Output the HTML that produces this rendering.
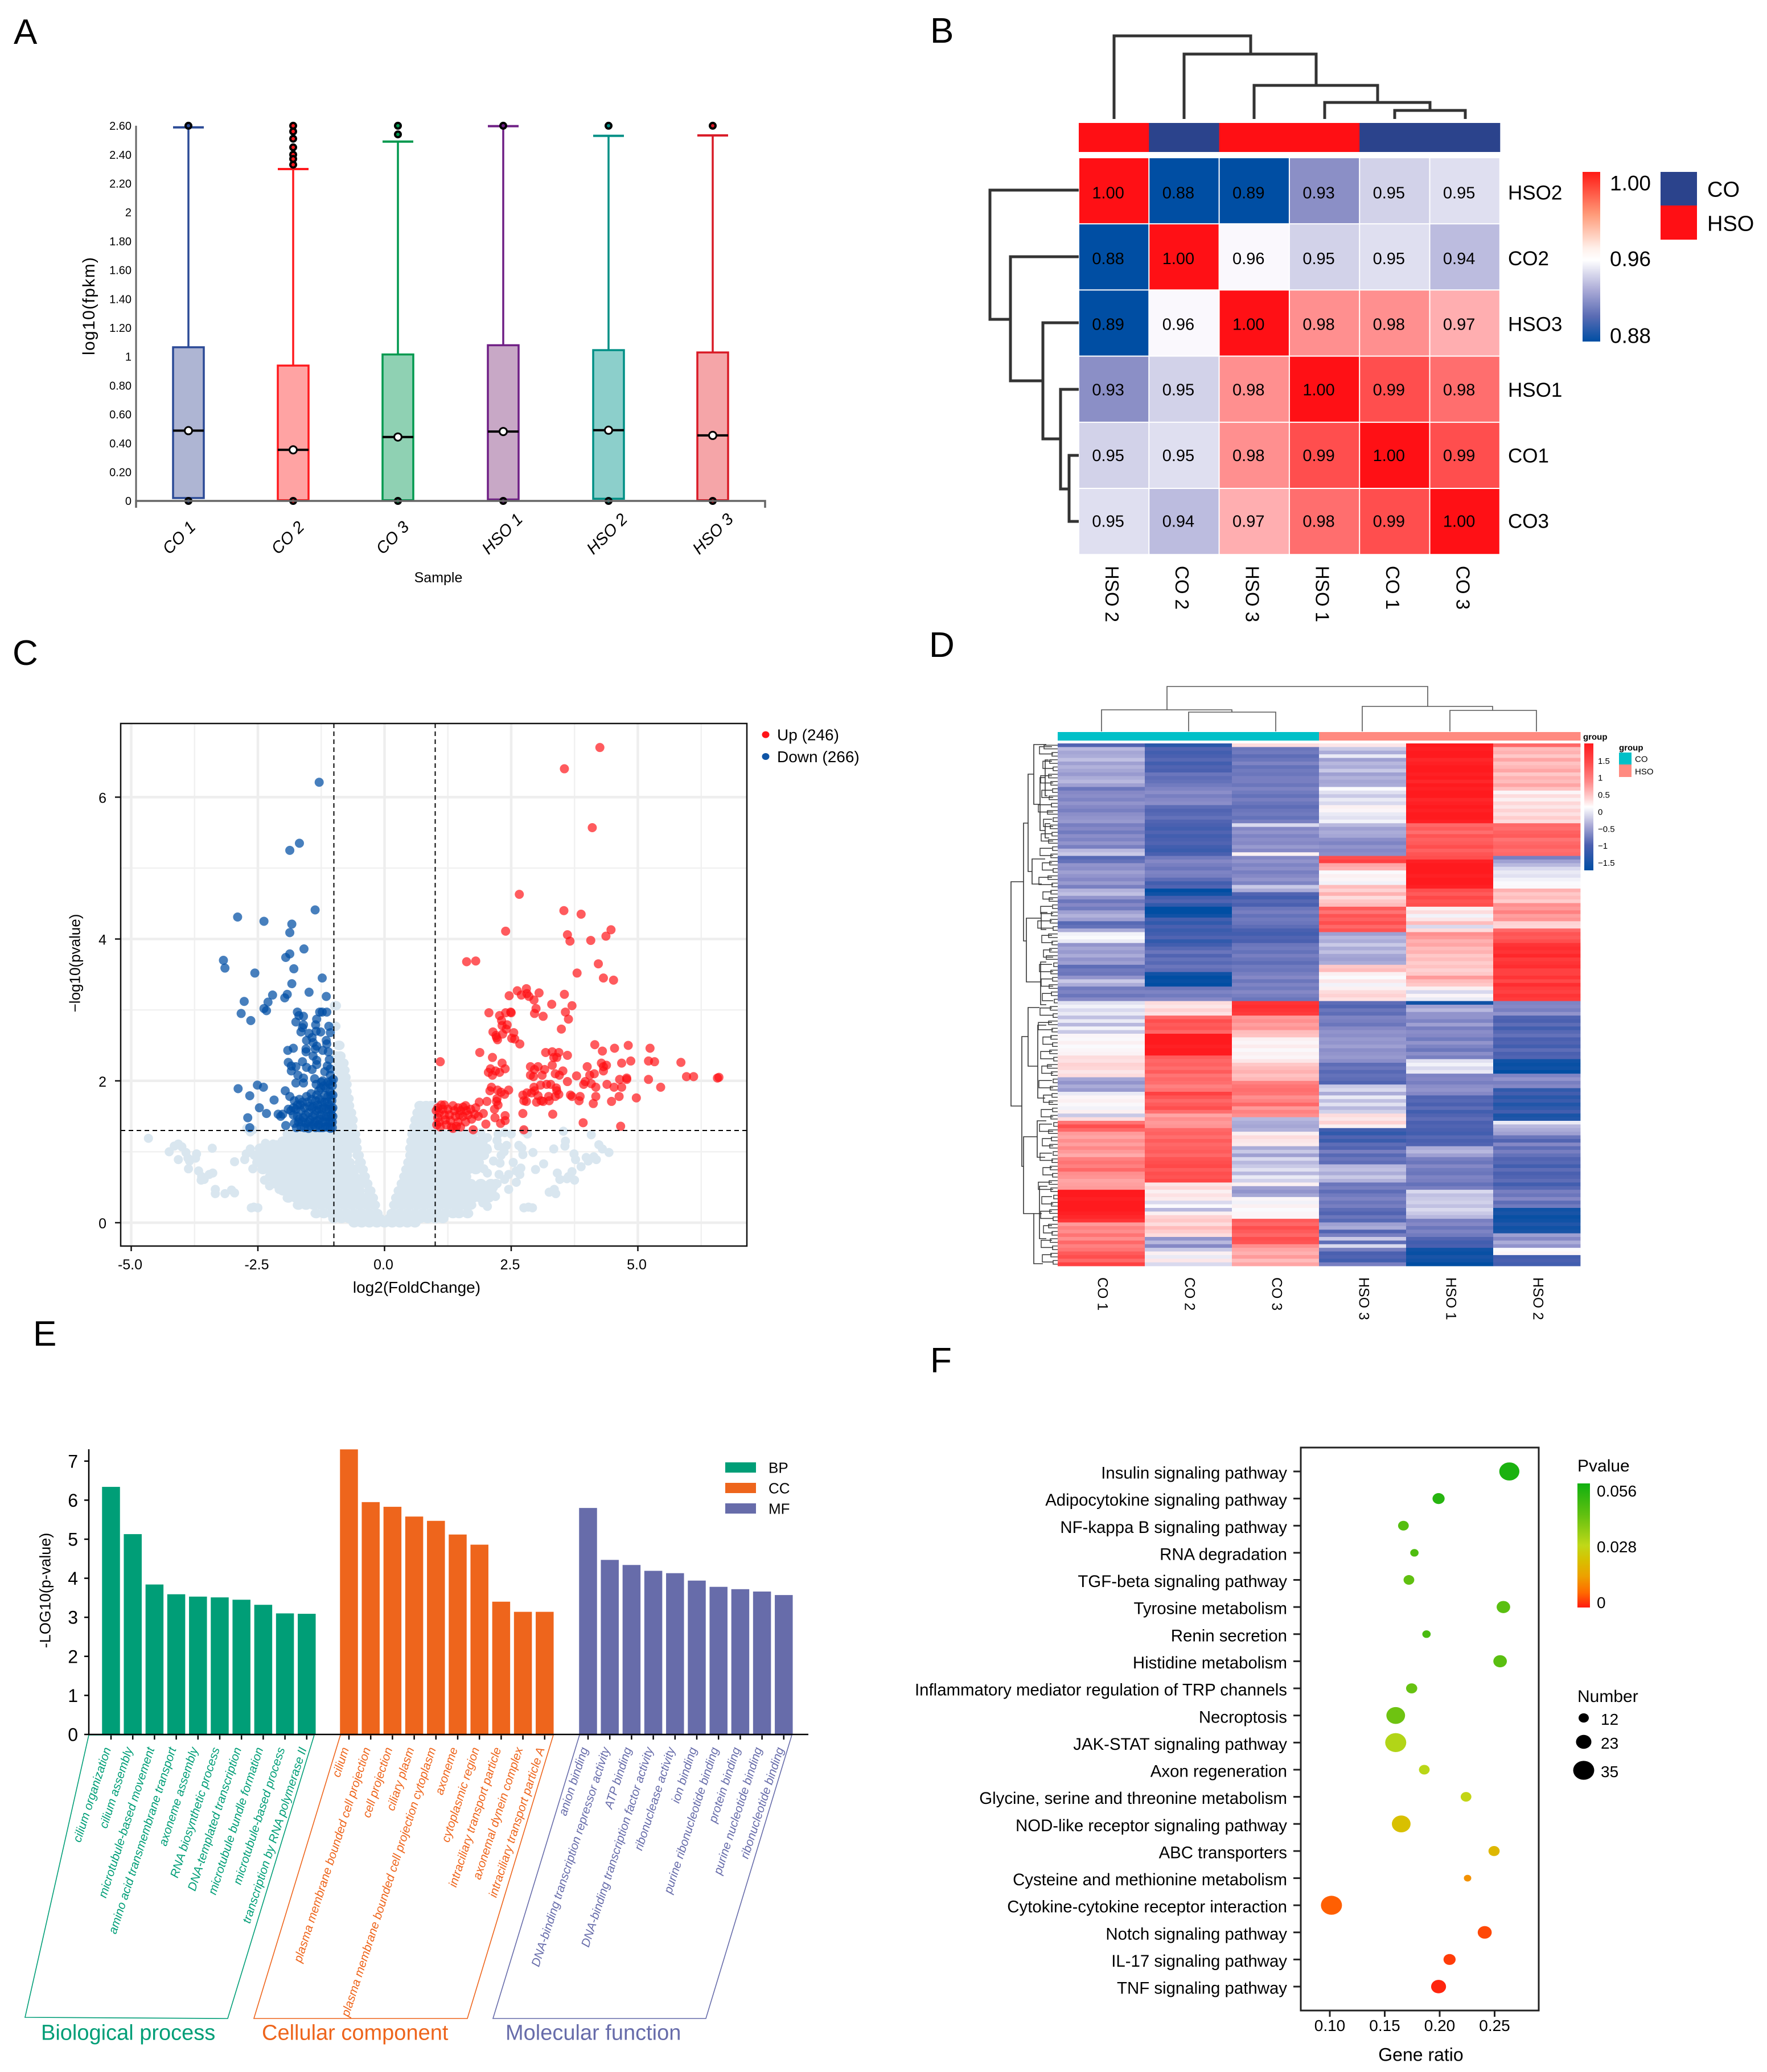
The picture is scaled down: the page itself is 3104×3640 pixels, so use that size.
<!DOCTYPE html>
<html lang="en">
<head>
<meta charset="utf-8">
<title>Multi-panel transcriptome figure</title>
<style>
html,body{margin:0;padding:0;background:#fff;}
svg{display:block;font-family:"Liberation Sans",sans-serif;}
.letter{font-size:62px;fill:#000;}
</style>
</head>
<body>
<svg id="fig" xmlns="http://www.w3.org/2000/svg" width="3104" height="3640" viewBox="0 0 3104 3640">
  <rect x="0" y="0" width="3104" height="3640" fill="#fff"/>
  <text class="letter" x="24" y="77">A</text>
  <text class="letter" x="1634" y="75">B</text>
  <text class="letter" x="22" y="1168">C</text>
  <text class="letter" x="1632" y="1154">D</text>
  <text class="letter" x="58" y="2364">E</text>
  <text class="letter" x="1634" y="2411">F</text>

  <g id="panelA">
    <text transform="rotate(-90 155 538)" x="155" y="538" dy=".36em" text-anchor="middle" font-size="30" textLength="172" lengthAdjust="spacing">log10(fpkm)</text>
    <text x="770" y="1014" dy=".36em" text-anchor="middle" font-size="25">Sample</text>
  </g>
  <g id="panelB"></g>
  <g id="panelC"></g>
  <g id="panelD"></g>
  <g id="panelE">
    <text transform="rotate(-90 79 2794)" x="79" y="2794" dy=".36em" text-anchor="middle" font-size="27">-LOG10(p-value)</text>
    <text x="72" y="3570" dy=".36em" font-size="38" fill="#009e77">Biological process</text>
    <text x="460" y="3570" dy=".36em" font-size="38" fill="#ee651c">Cellular component</text>
    <text x="888" y="3570" dy=".36em" font-size="38" fill="#676caa">Molecular function</text>
  </g>
  <g id="panelF">
    <text x="2496" y="3609" dy=".36em" text-anchor="middle" font-size="32">Gene ratio</text>
    <text x="2771" y="2574" dy=".36em" font-size="30">Pvalue</text>
    <text x="2771" y="2979" dy=".36em" font-size="30">Number</text>
  </g>
</svg>
<script>
/* ---------- Panel A data ---------- */
const boxSamples = ['CO 1','CO 2','CO 3','HSO 1','HSO 2','HSO 3'];
const boxQ1 = [0.02,0.005,0.005,0.01,0.015,0.005];
const boxMedian = [0.487,0.354,0.443,0.481,0.49,0.454];
const boxQ3 = [1.065,0.938,1.015,1.079,1.045,1.029];
const boxWhiskerHigh = [2.589,2.30,2.49,2.597,2.53,2.533];
const boxOutliers = [[2.6,0],[2.6,2.56,2.51,2.45,2.40,2.37,2.33,0],[2.6,2.54,0],[2.6,0],[2.6,0],[2.6,0]];
const boxYTicks = [0,0.2,0.4,0.6,0.8,1,1.2,1.4,1.6,1.8,2,2.2,2.4,2.6];
const boxYTickLabels = ['0','0.20','0.40','0.60','0.80','1','1.20','1.40','1.60','1.80','2','2.20','2.40','2.60'];

/* ---------- Panel B data ---------- */
const corrColumns = ['HSO 2','CO 2','HSO 3','HSO 1','CO 1','CO 3'];
const corrRows = ['HSO2','CO2','HSO3','HSO1','CO1','CO3'];
const corrGroups = ['HSO','CO','HSO','HSO','CO','CO'];
const corrValues = [
 [1.00,0.88,0.886,0.93,0.951,0.954],
 [0.88,1.00,0.96,0.951,0.954,0.944],
 [0.886,0.96,1.00,0.977,0.977,0.971],
 [0.93,0.951,0.977,1.00,0.99,0.983],
 [0.951,0.954,0.977,0.99,1.00,0.99],
 [0.954,0.944,0.971,0.983,0.99,1.00]];

/* ---------- Panel C data (log2FC, -log10 p) ---------- */
const upPoints = [[4.25,6.70],[3.55,6.40],[4.1,5.57],[2.66,4.63],[3.54,4.40],[3.88,4.35],[2.39,4.11],[4.47,4.13],[4.37,4.04],[3.61,4.06],[3.66,3.97],[4.07,3.98],[1.62,3.68],[1.80,3.69],[4.22,3.65],[3.8,3.52],[4.32,3.45],[4.52,3.42],[2.8,3.3],[2.62,3.27],[2.7,3.21],[2.81,3.23],[2.85,3.19],[3.05,3.24],[2.46,3.2],[2.95,3.14],[3.55,3.22],[3.3,3.08],[3.7,3.06],[2.99,3.02],[2.96,2.95],[3.13,2.91],[3.57,2.97],[3.63,2.87],[3.49,2.73],[2.06,2.96],[2.39,2.96],[2.49,2.97],[2.5,2.96],[2.27,2.92],[2.31,2.85],[2.32,2.78],[2.42,2.79],[2.4,2.73],[2.14,2.69],[2.33,2.66],[2.55,2.68],[2.2,2.64],[2.21,2.61],[2.23,2.58],[2.51,2.6],[2.57,2.59],[2.67,2.52],[4.15,2.51],[4.3,2.42],[4.54,2.46],[4.81,2.50],[5.24,2.46],[3.18,2.40],[3.31,2.41],[3.44,2.40],[3.61,2.36],[3.34,2.33],[3.4,2.33],[1.88,2.40],[2.13,2.33],[1.1,2.27],[2.32,2.25],[2.38,2.17],[2.09,2.17],[2.19,2.14],[2.27,2.12],[2.05,2.12],[2.13,2.08],[2.88,2.2],[3.03,2.2],[3.16,2.16],[3.31,2.22],[2.96,2.16],[2.88,2.08],[2.94,2.06],[3.11,2.08],[3.52,2.14],[3.37,2.1],[3.45,2.08],[4.0,2.2],[4.28,2.25],[4.38,2.22],[4.32,2.2],[4.68,2.25],[4.86,2.28],[5.21,2.28],[5.33,2.27],[5.85,2.26],[5.96,2.06],[6.1,2.06],[6.57,2.04],[6.6,2.05],[5.45,1.91],[5.21,2.02],[4.78,2.02],[4.78,2.04],[4.64,2.02],[4.32,2.14],[4.14,2.1],[4.05,2.08],[3.79,2.07],[3.61,1.99],[3.96,1.99],[3.93,1.95],[4.08,1.96],[4.17,1.91],[4.39,1.95],[4.53,1.91],[4.68,1.91],[2.11,1.91],[2.08,1.86],[2.23,1.87],[2.3,1.84],[2.45,1.87],[2.37,1.81],[3.08,1.94],[3.2,1.95],[3.28,1.95],[3.39,1.9],[3.4,1.86],[3.44,1.81],[3.37,1.78],[2.95,1.91],[2.96,1.86],[2.81,1.83],[2.9,1.83],[2.73,1.8],[3.03,1.79],[3.24,1.78],[2.75,1.72],[2.8,1.71],[3.0,1.7],[3.09,1.72],[3.13,1.71],[3.25,1.72],[3.67,1.8],[3.7,1.78],[3.86,1.78],[3.84,1.72],[4.17,1.78],[4.12,1.68],[4.48,1.71],[4.63,1.78],[4.97,1.76],[2.22,1.75],[2.21,1.71],[2.24,1.66],[2.17,1.6],[1.95,1.54],[2.02,1.71],[1.87,1.7],[2.18,1.48],[2.38,1.51],[2.38,1.44],[2.29,1.4],[2.0,1.39],[2.73,1.54],[3.32,1.53],[3.92,1.41],[4.66,1.36],[2.75,1.31],[1.75,1.31],[1.05,1.62],[1.08,1.55],[1.05,1.48],[1.08,1.42],[1.1,1.35],[1.15,1.6],[1.18,1.52],[1.2,1.45],[1.22,1.38],[1.25,1.6],[1.28,1.52],[1.3,1.44],[1.32,1.35],[1.35,1.65],[1.38,1.58],[1.4,1.5],[1.45,1.62],[1.45,1.42],[1.5,1.58],[1.5,1.35],[1.55,1.5],[1.55,1.63],[1.6,1.42],[1.62,1.58],[1.65,1.52],[1.7,1.6],[1.72,1.46],[1.78,1.53],[1.8,1.62],[1.85,1.5],[1.35,1.33],[1.12,1.66],[1.02,1.58],[1.03,1.38],[1.18,1.66],[1.42,1.36],[1.48,1.52],[1.6,1.65]];
const downPoints = [[-1.29,6.21],[-1.68,5.35],[-1.87,5.25],[-1.37,4.41],[-2.90,4.31],[-2.38,4.25],[-1.83,4.21],[-1.87,4.09],[-1.59,3.86],[-1.87,3.79],[-1.95,3.74],[-3.18,3.70],[-3.15,3.59],[-2.56,3.52],[-1.79,3.58],[-1.23,3.45],[-1.83,3.37],[-1.49,3.25],[-1.15,3.19],[-2.21,3.21],[-1.92,3.22],[-1.97,3.17],[-2.3,3.11],[-2.77,3.12],[-2.38,3.02],[-2.33,2.99],[-2.83,2.95],[-2.64,2.85],[-1.72,2.97],[-1.69,2.92],[-1.6,2.91],[-1.75,2.83],[-1.6,2.79],[-1.62,2.75],[-1.65,2.69],[-1.28,2.97],[-1.23,2.97],[-1.14,2.97],[-1.34,2.87],[-1.36,2.79],[-1.1,2.77],[-1.07,2.68],[-1.26,2.69],[-1.35,2.7],[-1.49,2.67],[-1.43,2.61],[-1.54,2.57],[-1.41,2.54],[-1.15,2.57],[-1.14,2.52],[-1.34,2.49],[-1.22,2.43],[-1.11,2.41],[-1.55,2.45],[-1.55,2.41],[-1.37,2.45],[-1.8,2.46],[-1.91,2.43],[-1.41,2.35],[-1.09,2.3],[-1.34,2.29],[-1.34,2.23],[-1.9,2.26],[-1.62,2.27],[-1.84,2.21],[-1.75,2.2],[-1.54,2.19],[-1.43,2.16],[-1.13,2.21],[-1.07,2.17],[-1.18,2.13],[-1.84,2.14],[-1.71,2.08],[-1.6,2.04],[-1.38,2.03],[-1.07,2.08],[-1.05,2.0],[-1.75,1.97],[-1.6,1.97],[-1.22,2.0],[-2.51,1.94],[-2.39,1.91],[-2.89,1.89],[-2.66,1.79],[-1.96,1.86],[-1.87,1.78],[-2.18,1.73],[-2.47,1.62],[-2.33,1.54],[-2.7,1.48],[-2.66,1.34],[-2.1,1.53],[-2.05,1.5],[-2.01,1.53],[-1.95,1.37],[-1.75,1.6],[-1.72,1.5],[-1.7,1.42],[-1.65,1.35],[-1.65,1.58],[-1.6,1.48],[-1.58,1.62],[-1.55,1.4],[-1.52,1.7],[-1.5,1.55],[-1.5,1.33],[-1.47,1.45],[-1.45,1.82],[-1.43,1.62],[-1.4,1.38],[-1.38,1.52],[-1.36,1.72],[-1.33,1.44],[-1.3,1.86],[-1.3,1.6],[-1.28,1.34],[-1.26,1.52],[-1.24,1.7],[-1.22,1.42],[-1.2,1.93],[-1.2,1.62],[-1.18,1.8],[-1.17,1.35],[-1.15,1.5],[-1.13,1.7],[-1.12,1.98],[-1.1,1.42],[-1.1,1.6],[-1.08,1.85],[-1.07,1.33],[-1.05,1.52],[-1.04,1.72],[-1.03,1.42],[-1.03,1.93],[-1.02,1.62],[-1.8,1.52],[-1.85,1.58],[-1.9,1.6],[-1.78,1.4],[-1.25,1.98],[-1.35,1.95],[-1.78,1.72],[-1.72,1.66],[-1.68,1.74],[-1.62,1.42],[-1.62,1.7],[-1.58,1.34],[-1.56,1.52],[-1.54,1.78],[-1.5,1.42],[-1.48,1.64],[-1.46,1.36],[-1.44,1.74],[-1.42,1.5],[-1.4,1.64],[-1.38,1.42],[-1.36,1.34],[-1.34,1.58],[-1.34,1.8],[-1.32,1.66],[-1.3,1.38],[-1.28,1.46],[-1.28,1.74],[-1.26,1.9],[-1.24,1.6],[-1.22,1.34],[-1.2,1.5],[-1.18,1.7],[-1.16,1.42],[-1.16,1.9],[-1.14,1.6],[-1.12,1.35],[-1.12,1.78],[-1.1,1.5],[-1.08,1.66],[-1.08,1.95],[-1.06,1.42],[-1.06,1.8],[-1.04,1.6],[-1.03,1.34],[-1.02,1.5],[-1.02,1.8],[-1.01,2.02],[-1.74,1.34],[-1.68,1.46],[-1.66,1.66],[-1.8,1.62]];
const insigRows = [
 [0.0,[-0.6,-0.45,-0.3,-0.15,0,0.15,0.3,0.45,0.6]],
 [0.06,[-1,-0.85,-0.7,-0.55,-0.4,-0.25,-0.1,0.1,0.25,0.4,0.55,0.7,0.85,1,1.15]],
 [0.13,[-1.35,-1.2,-1.05,-0.9,-0.75,-0.6,-0.45,-0.3,-0.15,0.15,0.3,0.45,0.6,0.75,0.9,1.05,1.2,1.35,1.47,1.64]],
 [0.25,[-1.7,-1.55,-1.4,-1.25,-1.1,-0.95,-0.8,-0.65,-0.5,-0.35,-0.2,0.2,0.35,0.5,0.65,0.8,0.95,1.1,1.25,1.4,1.55,1.7]],
 [0.35,[-1.9,-1.75,-1.6,-1.45,-1.3,-1.15,-1,-0.85,-0.7,-0.55,-0.4,-0.24,0.24,0.4,0.55,0.7,0.85,1,1.15,1.3,1.45,1.6,1.75,1.9,2.05]],
 [0.45,[-2,-1.85,-1.7,-1.55,-1.4,-1.25,-1.1,-0.95,-0.8,-0.65,-0.5,-0.29,0.29,0.45,0.6,0.75,0.9,1.05,1.2,1.35,1.5,1.65,1.8,1.95,2.1]],
 [0.55,[-2.15,-2,-1.85,-1.7,-1.55,-1.4,-1.25,-1.1,-0.95,-0.8,-0.65,-0.5,-0.35,0.35,0.5,0.65,0.8,0.95,1.1,1.25,1.4,1.55,1.7,1.9,2.1,2.2]],
 [0.65,[-2.25,-2.1,-1.95,-1.8,-1.65,-1.5,-1.35,-1.2,-1.05,-0.9,-0.75,-0.6,-0.4,0.4,0.55,0.7,0.85,1,1.15,1.3,1.45,1.6]],
 [0.75,[-2.4,-2.25,-2.1,-1.95,-1.8,-1.65,-1.5,-1.35,-1.2,-1.05,-0.9,-0.75,-0.6,-0.44,0.44,0.6,0.75,0.9,1.05,1.2,1.35,1.5,1.65,1.8]],
 [0.85,[-2.5,-2.35,-2.2,-2.05,-1.9,-1.75,-1.6,-1.45,-1.3,-1.15,-1,-0.85,-0.7,-0.48,0.48,0.62,0.78,0.92,1.08,1.22,1.38,1.52,1.68,1.85]],
 [0.95,[-2.55,-2.4,-2.25,-2.1,-1.95,-1.8,-1.65,-1.5,-1.35,-1.2,-1.05,-0.9,-0.75,-0.52,0.52,0.66,0.8,0.95,1.1,1.25,1.4,1.55,1.7,1.85,1.95]],
 [1.05,[-2.45,-2.3,-2.15,-2,-1.85,-1.7,-1.55,-1.4,-1.25,-1.1,-0.95,-0.8,-0.65,-0.56,0.52,0.66,0.8,0.95,1.1,1.25,1.4,1.55,1.7,1.85,2]],
 [1.15,[-2,-1.85,-1.7,-1.55,-1.4,-1.25,-1.1,-0.95,-0.8,-0.65,-0.57,0.54,0.68,0.82,0.96,1.1,1.25,1.4,1.55,1.7,1.85]],
 [1.25,[-1.9,-1.75,-1.6,-1.45,-1.3,-1.15,-1,-0.85,-0.7,-0.59,0.56,0.7,0.85,1,1.15,1.3,1.45,1.6,1.72]],
 [1.35,[-0.95,-0.8,-0.65,0.6,0.72,0.86,0.98]],
 [1.45,[-0.95,-0.8,-0.64,0.62,0.74,0.88,0.98]],
 [1.55,[-0.92,-0.78,-0.67,0.66,0.78,0.9,0.98]],
 [1.65,[-0.9,-0.78,-0.71,0.7,0.82,0.92,0.98]],
 [1.75,[-0.9,-0.72]],
 [1.85,[-0.9,-0.76]],
 [1.95,[-0.88,-0.76]],
 [2.05,[-0.85,-0.78]],
 [2.15,[-0.9,-0.8]],
 [2.25,[-0.9,-0.82]],
 [2.35,[-0.95,-0.88]],
 [2.5,[-0.9]],
 [2.77,[-0.98]],
 [3.06,[-0.97]]];
const insigScatter = [[-4.66,1.19],[-4.07,1.11],[-4.15,1.08],[-4.0,1.07],[-4.25,1.0],[-3.92,0.99],[-3.71,0.97],[-4.07,0.89],[-3.88,0.91],[-3.73,0.91],[-3.85,0.87],[-3.87,0.76],[-3.4,1.05],[-3.67,0.73],[-2.96,0.86],[-2.76,0.89],[-3.61,0.65],[-3.39,0.7],[-3.46,0.68],[-3.62,0.6],[-3.56,0.61],[-3.34,0.47],[-3.34,0.41],[-3.15,0.41],[-3.02,0.46],[-2.96,0.42],[-2.63,0.21],[-2.5,0.21],[-2.58,0.22],[-2.73,0.97],[-2.65,1.04],[-2.35,1.12],[-2.2,1.11],[-2.13,1.1],[-2.6,0.76],[-2.37,0.6],[-2.27,0.52],[-2.08,0.47],[-1.87,0.36],[-2.72,1.33],[-2.65,1.28],[-2.6,1.31],
[3.53,1.29],[4.08,1.24],[3.57,1.15],[3.56,1.08],[4.23,1.1],[4.3,1.04],[4.43,0.99],[3.34,1.04],[3.74,0.97],[3.77,0.89],[3.98,0.92],[4.13,0.93],[4.18,0.89],[4.02,0.87],[3.88,0.79],[3.14,0.83],[2.98,0.75],[3.41,0.7],[3.7,0.72],[3.63,0.65],[3.75,0.6],[3.46,0.61],[3.6,0.62],[3.35,0.47],[3.25,0.43],[3.38,0.41],[2.75,0.21],[2.84,0.22],[2.92,0.21],[2.93,0.99],[2.73,0.96],[2.71,1.05],[2.65,1.09],[2.5,1.25],[2.75,1.29],[2.82,1.25],[2.24,1.25],[2.37,1.27],[2.03,1.2],[2.22,1.16],[2.41,1.09],[2.25,1.08],[2.03,1.03],[2.36,1.0],[2.3,0.95],[2.54,0.85],[2.28,0.84],[2.15,0.87],[2.69,0.77],[2.6,0.73],[2.67,0.68],[2.45,0.68],[2.26,0.68],[2.37,0.61],[2.6,0.57],[2.45,0.47],[1.96,0.76],[2.03,0.7],[1.96,0.53],[2.15,0.5],[2.19,0.37],[2.03,0.23],[1.94,0.28],[1.9,1.27],[1.95,1.15]];
const volcanoXTicks = [-5,-2.5,0,2.5,5];
const volcanoXTickLabels = ['-5.0','-2.5','0.0','2.5','5.0'];
const volcanoXMinor = [-3.75,-1.25,1.25,3.75,6.25];
const volcanoYTicks = [0,2,4,6];
const volcanoYMinor = [1,3,5];
const volcanoLegend = ['Up (246)','Down (266)'];

/* ---------- Panel D data (row z-scores per column) ---------- */
const heatColumns = ['CO 1','CO 2','CO 3','HSO 3','HSO 1','HSO 2'];
const heatGroups = ['CO','CO','CO','HSO','HSO','HSO'];
const heatCO1 = [-1.2,-0.4,-0.55,-0.5,-0.35,-0.6,-0.45,-0.55,-0.65,-0.5,-0.4,-0.6,-1.0,-0.8,-0.75,-0.85,-0.7,-0.8,-0.9,-0.75,-0.7,-0.65,-0.9,-0.8,-0.95,-0.75,-0.85,-0.7,-0.9,-0.4,-0.3,-1.15,-1.05,-0.7,-0.75,-0.6,-0.7,-0.8,-0.65,-0.9,-0.45,-0.35,-0.7,-1,-0.8,-0.95,-0.6,-0.45,-0.6,-1.15,-1.05,-0.5,-0.05,0,-0.1,-0.7,-0.55,-0.65,-0.5,-0.7,-0.6,-1.1,-0.95,-1.0,-0.7,-0.3,-0.5,-0.95,-0.85,-1,-0.8,-0.15,-0.05,-0.2,-0.1,-0.35,-0.1,-0.4,-0.05,-0.3,0.05,0.02,0.1,0,0.05,0.08,0.3,0.25,0.4,0.35,0.2,0.3,-0.55,-0.7,-0.5,-0.65,-0.1,0.05,0.1,0.02,-0.05,0.1,-0.3,0.3,1.2,1.5,1.3,0.9,0.8,1,0.85,1.05,0.9,0.75,1.1,1.2,1.1,1.3,1,0.95,0.8,0.85,0.9,1.9,1.95,1.85,1.9,1.95,1.9,1.85,1.8,1.7,0.9,1.1,1,1.2,1,1.3,1.1,1.2,1.4,1.5,1.3,1.6];
const heatCO2 = [-1.45,-1.2,-1.3,-1.25,-1.15,-1.3,-1.2,-1.25,-1,-1.1,-1.05,-0.95,-0.85,-0.75,-0.9,-0.8,-0.75,-1.1,-1.2,-1.15,-1.05,-1.2,-1.25,-1.3,-1.2,-1.3,-1.25,-1.2,-1.3,-1.35,-1.25,-0.95,-0.8,-0.9,-1,-0.85,-0.9,-1.1,-1.3,-1.2,-1.7,-1.6,-1.3,-1.2,-1.4,-1.7,-1.75,-1.6,-1.3,-1.4,-1.25,-1.35,-1.3,-1.2,-1.4,-1.3,-1.15,-1,-1.2,-1.05,-1.15,-1,-1.1,-1.6,-1.7,-1.65,-1.7,-1,-0.85,-0.95,-0.8,0.3,0.2,0.4,0.25,1.3,1.5,1.4,1.45,1.3,1.9,1.95,1.9,1.85,1.9,1.95,1.4,1.3,1.35,1.25,1.4,1.2,1.3,1.25,1.1,1.2,1.6,1.45,1.3,1.4,1.5,1.25,0.8,1,0.9,0.95,1.3,1.35,1.25,1.4,1.3,1.35,1.4,1.3,1.45,1.5,1.55,1.4,1.5,1.45,1.55,0.2,0.35,0.1,0.25,0.15,-0.2,0,-0.4,0.1,0.4,0.5,0.3,0.6,0.45,0.3,-0.7,-0.4,-0.8,-0.3,0.1,-0.1,0.2,-0.2];
const heatCO3 = [0.3,-1,-0.95,-1.1,-1,-0.85,-1.05,-0.95,-1,-0.9,-0.9,-1,-0.85,-0.95,-1.05,-0.9,-1,-1.1,-1,-0.95,-1.05,-0.9,-0.2,-0.8,-0.7,-0.85,-0.75,-0.8,-0.65,-0.8,0.1,-0.8,-0.7,-0.85,-0.75,-0.9,-0.8,-0.7,-0.85,-0.3,-0.5,-1.2,-1.3,-1.15,-1.25,-1,-0.9,-1.05,-0.95,-1,-1.1,-1.25,-1.3,-1.2,-1.25,-1,-0.95,-1.05,-0.9,-1,-1.1,-0.95,-1,-0.9,-0.8,-1,-0.85,-0.95,-0.8,-0.9,-1,1.7,1.75,1.7,1.65,0.9,1,0.85,0.95,0.6,0.55,0.1,0.05,0.15,0.02,0.1,0.05,0.2,0.5,0.6,0.7,0.55,0.65,1.1,1.2,1.25,1.2,1,1.1,1.3,0.9,1.1,1,-0.4,-0.5,-0.55,-0.45,0.1,0.3,0.2,0.15,-0.5,-0.3,-0.6,-0.2,-0.4,-0.3,-0.15,-0.4,-0.1,-0.25,0.1,-0.6,-0.7,-0.55,0.05,-0.05,0.1,0,0.05,0.05,1.4,1.3,1.5,1.4,1.3,1.5,1.45,1,0.8,0.7,0.9,0.6,0.8];
const heatHSO3 = [0.2,-0.3,-0.5,-0.1,-0.6,-0.4,-0.5,-0.3,-0.6,-0.45,-0.55,-0.5,0,-0.15,-0.3,-0.1,-0.2,0.1,0.05,-0.1,-0.15,-0.05,-0.4,-0.6,-0.5,-0.55,-0.75,-0.85,-0.7,-0.8,-0.75,1.5,1.6,0.8,0.7,0,0.1,0.05,-0.05,0.6,0.4,0.7,0.3,0.5,0.6,1.4,1.2,1.45,1.35,1.5,1.3,1.45,-0.6,-0.4,-0.5,-0.3,-0.5,-0.35,-0.55,-0.6,-0.5,0.5,0.6,0.1,0,0.2,-0.05,0.1,0.3,0.4,0.25,-1.1,-1.2,-1,-1.1,-0.85,-0.9,-1,-0.8,-0.7,-0.75,-0.65,-0.7,-0.6,-0.75,-0.7,-0.65,-0.75,-1.1,-1,-1.15,-1.05,-1.1,-1.2,-0.3,-0.2,-0.5,-0.1,-0.35,-0.15,-0.4,-0.25,0.3,0.2,0.4,0.1,-1.3,-1.4,-1.2,-1.35,-1.1,-1.2,-0.9,-1.15,-1,-1.1,-0.4,-0.35,-0.5,-0.3,-0.45,-1,-0.9,-1.1,-0.95,-0.85,-1,-0.9,-1.1,-1.2,-1,-1.15,-0.6,-0.5,-1.2,-0.9,-0.3,-1.1,-0.2,-0.9,-1.25,-1.2,-1.3,-0.9];
const heatHSO1 = [1.9,1.85,1.95,1.9,1.8,1.85,1.9,1.95,1.85,1.9,1.8,1.9,1.85,1.95,1.9,1.8,1.85,1.9,1.85,1.9,1.95,1.85,1.3,1.4,1.25,1.45,1.35,1.4,1.5,1.35,1.45,1.5,1.85,1.9,1.95,1.9,1.85,1.95,1.9,1.85,1.5,1.4,1.55,1.45,1.5,0.1,0.3,-0.05,0.2,0.6,-0.2,0.3,1,0.9,0.7,0.8,0.6,0.7,0.5,0.6,0.45,0.55,0.4,0.5,0.9,0.6,0.5,0.1,-0.2,0.05,-0.1,-1.6,-0.6,-0.4,-0.7,-0.7,-0.85,-0.6,-0.9,-0.75,-0.8,-0.95,-0.7,-0.85,-1,-0.75,-0.9,-0.15,-0.05,-0.2,-0.1,-0.85,-0.8,-0.9,-0.75,-0.7,-0.8,-1.2,-1.15,-1.25,-1.1,-1.3,-1.2,-1.1,-1.25,-1.2,-1.25,-1.3,-1.15,-1.25,-1.2,-0.5,-0.4,-0.6,-0.9,-1,-0.8,-0.95,-1,-0.85,-0.9,-1.05,-0.9,-0.2,-0.35,-0.3,-0.25,-0.35,-0.2,-0.3,-0.4,-0.9,-0.8,-1,-0.85,-0.95,-1.2,-1.3,-1.25,-1.6,-1.65,-1.55,-1.6,-1.7];
const heatHSO2 = [1.3,0.6,0.7,0.5,0.8,0.55,0.65,0.8,0.5,0.7,0.6,0.8,0.55,0.05,0.3,0.1,0.35,0.2,0.4,0.25,0.45,0.3,1.3,1.25,1.35,1.4,1.2,1.3,1.35,1.25,1.3,-0.9,-0.6,-0.4,-0.2,-0.1,-0.15,-0.05,0,0.02,0.7,0.5,0.6,0.45,1,0.9,1.1,0.85,0.95,0.4,0.35,1.3,1.45,1.4,1.5,1.7,1.75,1.7,1.8,1.65,1.7,1.75,1.6,1.6,1.7,1.55,1.75,1.65,1.6,1.7,1.65,-0.85,-0.8,-0.9,-0.7,-1.2,-1.25,-1.1,-1.3,-1.15,-1.05,-1.25,-1.2,-1.3,-1.1,-1.25,-1.2,-1.6,-1.65,-1.6,-1.7,-0.85,-0.7,-0.9,-0.8,-1.4,-1.3,-1.45,-1.35,-1.5,-1.4,-1.3,-1.55,-1.5,-0.1,-0.4,-0.5,-0.6,-1,-1.2,-0.8,-1.1,-0.9,-1.05,-1.2,-1.15,-1.3,-1.1,-1.25,-1.2,-1.1,-1.3,-1.15,-0.9,-1,-0.8,-1.1,-0.95,-1.6,-1.55,-1.65,-1.6,-1.5,-1.6,-1.55,-0.6,-0.8,-0.5,-0.7,0,0.05,-1.3,-1.25,-1.3];
const heatRowsByColumn = [heatCO1,heatCO2,heatCO3,heatHSO3,heatHSO1,heatHSO2];
const heatLegendTicks = [1.5,1,0.5,0,-0.5,-1,-1.5];
const heatLegendLabels = ['1.5','1','0.5','0','\u22120.5','\u22121','\u22121.5'];
const leafDepthsFine = [24,10,14,8,16,12,9,15,11,18,8,13,10,16,9,12,14,8,17,10,12,15,9,11,13,8,16,10,14,20,7,12,9,15,11,6,13,8,16,10,12,9,14,7,18,11,8,13,10,15,9,12,7,16,11,14,8,10,13,9,15,12,7,11,14,8,16,10,13,9,12,8];
const leafDepthsMid = [32,26,30,28,34,25,29,31,27,33,26,30,35,28,25,32,29,27,31,34,26,30,28,33,25,29,32,27,31,26,34,28,30,25,29,27];

/* ---------- Panel E data ---------- */
const goBpTerms = ['cilium organization','cilium assembly','microtubule-based movement','amino acid transmembrane transport','axoneme assembly','RNA biosynthetic process','DNA-templated transcription','microtubule bundle formation','microtubule-based process','transcription by RNA polymerase II'];
const goBpValues = [6.34,5.13,3.84,3.59,3.53,3.51,3.45,3.32,3.10,3.09];
const goCcTerms = ['cilium','plasma membrane bounded cell projection','cell projection','ciliary plasm','plasma membrane bounded cell projection cytoplasm','axoneme','cytoplasmic region','intraciliary transport particle','axonemal dynein complex','intraciliary transport particle A'];
const goCcValues = [7.30,5.95,5.83,5.58,5.47,5.12,4.86,3.40,3.14,3.14];
const goMfTerms = ['anion binding','DNA-binding transcription repressor activity','ATP binding','DNA-binding transcription factor activity','ribonuclease activity','ion binding','purine ribonucleotide binding','protein binding','purine nucleotide binding','ribonucleotide binding'];
const goMfValues = [5.80,4.47,4.34,4.19,4.13,3.94,3.78,3.72,3.66,3.57];
const goYTicks = [0,1,2,3,4,5,6,7];
const goLegend = ['BP','CC','MF'];

/* ---------- Panel F data ---------- */
const keggPathways = ['Insulin signaling pathway','Adipocytokine signaling pathway','NF-kappa B signaling pathway','RNA degradation','TGF-beta signaling pathway','Tyrosine metabolism','Renin secretion','Histidine metabolism','Inflammatory mediator regulation of TRP channels','Necroptosis','JAK-STAT signaling pathway','Axon regeneration','Glycine, serine and threonine metabolism','NOD-like receptor signaling pathway','ABC transporters','Cysteine and methionine metabolism','Cytokine-cytokine receptor interaction','Notch signaling pathway','IL-17 signaling pathway','TNF signaling pathway'];
const keggRatio = [0.2634,0.199,0.167,0.177,0.172,0.258,0.188,0.255,0.1745,0.160,0.160,0.186,0.224,0.165,0.2495,0.2254,0.1015,0.241,0.209,0.199];
const keggPvalue = [0.054,0.052,0.044,0.045,0.042,0.043,0.046,0.043,0.041,0.04,0.03,0.029,0.027,0.021,0.019,0.012,0.006,0.004,0.003,0.001];
const keggCount = [33,16,13,8,13,19,8,19,14,30,35,13,13,30,14,6,35,20,16,22];
const keggXTicks = [0.10,0.15,0.20,0.25];
const keggPTicks = [0.056,0.028,0];
const keggSizeLegend = [12,23,35];

/* ---------- helpers ---------- */
const NS = 'http://www.w3.org/2000/svg';
function mk(tag, attrs, parent){
  const el = document.createElementNS(NS, tag);
  for (const k in attrs) el.setAttribute(k, attrs[k]);
  if (parent) parent.appendChild(el);
  return el;
}
function txt(parent, x, y, str, size, opts){
  opts = opts || {};
  const a = {x:x, y:y, dy:'.36em', 'font-size':size, fill:opts.fill||'#000', 'text-anchor':opts.anchor||'start'};
  if (opts.rotate !== undefined) a.transform = 'rotate('+opts.rotate+' '+x+' '+y+')';
  if (opts.italic) a['font-style'] = 'italic';
  if (opts.bold) a['font-weight'] = 'bold';
  const t = mk('text', a, parent);
  t.textContent = str;
  return t;
}
function hex(c){return [parseInt(c.slice(1,3),16),parseInt(c.slice(3,5),16),parseInt(c.slice(5,7),16)];}
function ramp(stops, v){
  if (v <= stops[0][0]) return stops[0][1];
  for (let i=1;i<stops.length;i++){
    if (v <= stops[i][0]){
      const t=(v-stops[i-1][0])/(stops[i][0]-stops[i-1][0]);
      const a=hex(stops[i-1][1]), b=hex(stops[i][1]);
      return 'rgb('+a.map((c,j)=>Math.round(c+(b[j]-c)*t)).join(',')+')';
    }
  }
  return stops[stops.length-1][1];
}
function bracket(parent, x, y1, x1, y2, x2, color, w){
  return mk('path',{d:'M'+x1+' '+y1+'H'+x+'V'+y2+'H'+x2, fill:'none', stroke:color, 'stroke-width':w}, parent);
}

/* ---------- Panel A ---------- */
(function(){
  const g = document.getElementById('panelA');
  const yA = v => 880 - v*253.5;
  const centers = [331,515,699,884,1069,1252];
  const strokeColors = ['#2b4a96','#ff1a1e','#00994f','#6f1f85','#008f85','#d91a26'];
  const fillColors = ['#aeb5d3','#ffa3a3','#8fd1b3','#c8a8c6','#8ccfcb','#f5a5a8'];
  const yAxis = mk('line',{x1:239,x2:239,y1:yA(2.6),y2:892,stroke:'#666','stroke-width':3},g);
  
  
  boxYTicks.forEach((t,i)=>{
    const lab = txt(g,231,yA(t),boxYTickLabels[i],20,{anchor:'end'});
    
    
  });
  boxSamples.forEach((s,i)=>{
    const c = centers[i], col = strokeColors[i];
    const wh = mk('line',{x1:c,x2:c,y1:yA(boxWhiskerHigh[i]),y2:yA(boxQ3[i]),stroke:col,'stroke-width':3.5},g);
    
    
    const cap = mk('line',{x1:c-27,x2:c+27,y1:yA(boxWhiskerHigh[i]),y2:yA(boxWhiskerHigh[i]),stroke:col,'stroke-width':4},g);
    
    
    const box = mk('rect',{x:c-27,y:yA(boxQ3[i]),width:54,height:yA(boxQ1[i])-yA(boxQ3[i]),fill:fillColors[i],stroke:col,'stroke-width':3.5},g);
    
    
    const med = mk('line',{x1:c-27,x2:c+27,y1:yA(boxMedian[i]),y2:yA(boxMedian[i]),stroke:'#000','stroke-width':4},g);
    
    
    const mean = mk('circle',{cx:c,cy:yA(boxMedian[i]),r:6.5,fill:'#fff',stroke:'#000','stroke-width':3},g);
    
    
    boxOutliers[i].forEach(o=>{
      const p = mk('circle',{cx:c,cy:yA(o),r:5,fill:col,stroke:'#000','stroke-width':4},g);
      
      
    });
  });
  const xAxis = mk('path',{d:'M239 892V880H1344V892',fill:'none',stroke:'#666','stroke-width':3.5},g);
  
  
  const starts = [[290,968],[481,968],[665,968],[851,968],[1035,968],[1221,968]];
  boxSamples.forEach((s,i)=>{
    const lab = txt(g,starts[i][0],starts[i][1],s,29,{rotate:-45,italic:true});
    
    
  });
})();

/* ---------- Panel B ---------- */
(function(){
  const g = document.getElementById('panelB');
  const left=1895, top=277, cw=123.3, rh=116.2;
  const xB = i => left + cw*i;
  const yB = i => top + rh*i;
  const stops = [[0.886,'#004ea3'],[0.93,'#8b8fc6'],[0.944,'#bcbcdf'],[0.951,'#d2d2e9'],[0.954,'#dfdff0'],[0.96,'#faf8fd'],[0.971,'#ffaeb0'],[0.977,'#ff8f8f'],[0.983,'#ff6e6e'],[0.99,'#ff4e4e'],[1,'#ff1015']];
  const groupColor = {CO:'#2b438c', HSO:'#ff0f14'};
  corrGroups.forEach((gr,j)=>{
    const r = mk('rect',{x:xB(j),y:216,width:cw+0.5,height:51,fill:groupColor[gr]},g);
    
    
  });
  corrValues.forEach((row,i)=>{
    row.forEach((v,j)=>{
      const c = mk('rect',{x:xB(j)+1,y:yB(i)+1,width:cw-2,height:rh-2,fill:ramp(stops,v)},g);
      
      
      const t = txt(g,xB(j)+cw/2-10,yB(i)+rh/2+3-i*0.8,v.toFixed(2),29,{anchor:'middle'});
      
      
    });
    const lab = txt(g,2649,yB(i)+rh/2+3-i*0.8,corrRows[i],35);
    
    
  });
  corrColumns.forEach((c,j)=>{
    const lab = txt(g,xB(j)+cw/2-3,994,c,33,{rotate:90});
    
    
  });
  const topTree = [[63,1957,2197,209,95],[95,2080,2312,209,150],[150,2203,2420,209,180],[180,2327,2512,209,194],[194,2450,2574,209,209]];
  topTree.forEach(n=>{
    const p = mk('path',{d:'M'+n[1]+' '+n[3]+'V'+n[0]+'H'+n[2]+'V'+n[4],fill:'none',stroke:'#333','stroke-width':5},g);
    
    
  });
  const leftTree = [[1739,334,1895,561,1775],[1775,451,1895,669,1832],[1832,567,1895,771,1863],[1863,684,1895,859,1878],[1878,800,1895,916,1895]];
  leftTree.forEach(n=>{
    const p = bracket(g,n[0],n[1],n[2],n[3],n[4],'#333',5);
    
    
  });
  const defs = mk('defs',{},g);
  const lg = mk('linearGradient',{id:'corrGrad',x1:0,x2:0,y1:0,y2:1},defs);
  [['0','#ff1a15'],['0.25','#ff9a78'],['0.45','#fff0ea'],['0.52','#ffffff'],['0.7','#a9a9d6'],['0.85','#5a6cb4'],['1','#004ea3']].forEach(s=>mk('stop',{offset:s[0],'stop-color':s[1]},lg));
  const bar = mk('rect',{x:2780,y:302,width:31,height:298,fill:'url(#corrGrad)'},g);
  
  
  [['1.00',321],['0.96',454],['0.88',589]].forEach(k=>{
    const t = txt(g,2828,k[1],k[0],37);
    
    
  });
  const s1 = mk('rect',{x:2917,y:302,width:64,height:59,fill:groupColor.CO},g);
  
  
  const s2 = mk('rect',{x:2917,y:361,width:64,height:60,fill:groupColor.HSO},g);
  
  
  const l1 = txt(g,2999,332,'CO',38);
  
  
  const l2 = txt(g,2999,392,'HSO',38);
  
  
})();

/* ---------- Panel C ---------- */
(function(){
  const g = document.getElementById('panelC');
  const xC = v => 675.5 + v*89;
  const yC = v => 2148 - v*124.6;
  const L=212,R=1312,T=1271,B=2189;
  volcanoXMinor.forEach(v=>{
    const l = mk('line',{x1:xC(v),x2:xC(v),y1:T,y2:B,stroke:'#f1f1f1','stroke-width':2.5},g);
    
    
  });
  volcanoYMinor.forEach(v=>{
    const l = mk('line',{x1:L,x2:R,y1:yC(v),y2:yC(v),stroke:'#f1f1f1','stroke-width':2.5},g);
    
    
  });
  volcanoXTicks.forEach(v=>{
    const l = mk('line',{x1:xC(v),x2:xC(v),y1:T,y2:B,stroke:'#eeeeee','stroke-width':4.5},g);
    
    
  });
  volcanoYTicks.forEach(v=>{
    const l = mk('line',{x1:L,x2:R,y1:yC(v),y2:yC(v),stroke:'#eeeeee','stroke-width':4.5},g);
    
    
  });
  insigRows.forEach(row=>{
    row[1].forEach(x=>{
      const e = mk('ellipse',{cx:xC(x),cy:yC(row[0]),rx:10,ry:8.5,fill:'#d9e6ef'},g);
      
      
    });
  });
  insigScatter.forEach(p=>{
    const e = mk('circle',{cx:xC(p[0]),cy:yC(p[1]),r:8,fill:'#d9e6ef'},g);
    
    
  });
  downPoints.forEach(p=>{
    const e = mk('circle',{cx:xC(p[0]),cy:yC(p[1]),r:8,fill:'#004ea3','fill-opacity':0.72},g);
    
    
  });
  upPoints.forEach(p=>{
    const e = mk('circle',{cx:xC(p[0]),cy:yC(p[1]),r:8,fill:'#ff0e12','fill-opacity':0.68},g);
    
    
  });
  [-1,1].forEach(v=>{
    const l = mk('line',{x1:xC(v),x2:xC(v),y1:T,y2:B,stroke:'#000','stroke-width':2,'stroke-dasharray':'8 6'},g);
    
    
  });
  const hl = mk('line',{x1:L,x2:R,y1:yC(1.3),y2:yC(1.3),stroke:'#000','stroke-width':2,'stroke-dasharray':'8 6'},g);
  
  
  const fr = mk('rect',{x:L,y:T,width:R-L,height:B-T,fill:'none',stroke:'#111','stroke-width':2.5},g);
  
  
  volcanoXTicks.forEach((v,i)=>{
    const tk = mk('line',{x1:xC(v),x2:xC(v),y1:B,y2:B+9,stroke:'#111','stroke-width':2.5},g);
    
    
    const t = txt(g,xC(v)-2,2221,volcanoXTickLabels[i],25,{anchor:'middle'});
    
    
  });
  volcanoYTicks.forEach(v=>{
    const tk = mk('line',{x1:202,x2:L,y1:yC(v),y2:yC(v),stroke:'#111','stroke-width':2.5},g);
    
    
    const t = txt(g,187,yC(v)+1,String(v),25,{anchor:'end'});
    
    
  });
  const xt = txt(g,732,2261,'log2(FoldChange)',28,{anchor:'middle'});
  
  
  const yt = txt(g,131,1692,'\u2212log10(pvalue)',26,{anchor:'middle',rotate:-90});
  
  
  const lc = ['#ff1419','#0f55a6'], ly=[1290.6,1329];
  volcanoLegend.forEach((s,i)=>{
    const d = mk('ellipse',{cx:1345,cy:ly[i],rx:6.5,ry:6,fill:lc[i]},g);
    
    
    const t = txt(g,1365,ly[i],s,28);
    
    
  });
})();

/* ---------- Panel D ---------- */
(function(){
  const g = document.getElementById('panelD');
  const L=1858, T=1306, cw=153, rh=918/heatCO1.length;
  const xD = j => L + cw*j;
  const yD = i => T + rh*i;
  const stops = [[-1.7,'#004ea3'],[-1.25,'#4a60b0'],[-0.8,'#8588c6'],[-0.4,'#b8b8de'],[0,'#fafafd'],[0.5,'#ffc8c8'],[1,'#ff8e8e'],[1.5,'#ff4e4e'],[1.9,'#ff1a1e']];
  const groupCol = {CO:'#00c0c8', HSO:'#ff8a80'};
  heatGroups.forEach((gr,j)=>{
    const r = mk('rect',{x:xD(j),y:1286,width:cw+0.5,height:15,fill:groupCol[gr]},g);
    
    
  });
  heatRowsByColumn.forEach((vals,j)=>{
    vals.forEach((v,i)=>{
      const c = mk('rect',{x:xD(j),y:yD(i),width:cw+0.4,height:rh+0.4,fill:ramp(stops,v)},g);
      
      
    });
  });
  heatColumns.forEach((c,j)=>{
    const t = txt(g,xD(j)+cw/2+3,2244,c,25,{rotate:90});
    
    
  });
  const tops = [[1206,2050,1247,2508,1241],[1247,1935,1285,2164,1251],[1251,2088,1285,2241,1285],[1241,2393,1285,2622,1248],[1248,2547,1285,2699,1285]];
  tops.forEach(n=>{
    const p = mk('path',{d:'M'+n[1]+' '+n[2]+'V'+n[0]+'H'+n[3]+'V'+n[4],fill:'none',stroke:'#555','stroke-width':1.6},g);
    
    
  });
  const rowNodes = [[1776,1549,1798,1943,1795],[1798,1446,1806,1653,1803],[1806,1360,1816,1531,1813],[1816,1308,1838,1413,1827],[1827,1366,1836,1459,1836],[1836,1335,1842,1398,1840],[1836,1447,1845,1472,1843],[1813,1509,1836,1553,1830],[1803,1613,1829,1725,1828],[1829,1603,1840,1633,1838],[1828,1690,1838,1765,1838],[1795,1821,1806,2049,1798],[1806,1770,1826,1873,1823],[1823,1801,1838,1929,1836],[1798,1997,1822,2132,1816],[1822,1969,1838,2033,1836],[1826,2084,1840,2176,1838],[1816,2132,1830,2220,1832]];
  rowNodes.forEach(n=>{
    const p = bracket(g,n[0],n[1],n[2],n[3],n[4],'#333',1.6);
    
    
  });
  leafDepthsMid.forEach((d,k)=>{
    const y1 = yD(k*4)+rh*0.9, y2 = yD(k*4+2)+rh*0.9, x = L-d;
    const p = bracket(g,x,y1,L-10,y2,L-8,'#333',1.4);
    
    
  });
  leafDepthsFine.forEach((d,k)=>{
    const y1 = yD(k*2)+rh*0.5, y2 = yD(k*2+1)+rh*0.5, x = L-d;
    const p = bracket(g,x,y1,L,y2,L,'#333',1.4);
    
    
  });
  const defs = mk('defs',{},g);
  const lg = mk('linearGradient',{id:'heatGrad',x1:0,x2:0,y1:0,y2:1},defs);
  [['0','#ff1a1e'],['0.15','#ff4a4a'],['0.3','#ff8888'],['0.44','#ffd8d8'],['0.5','#ffffff'],['0.65','#a8a8d6'],['0.8','#4b5fb0'],['1','#004ea3']].forEach(s=>mk('stop',{offset:s[0],'stop-color':s[1]},lg));
  const bar = mk('rect',{x:2783,y:1306,width:16,height:223,fill:'url(#heatGrad)'},g);
  
  
  const yLeg = v => 1426 - v*59.7;
  heatLegendTicks.forEach((v,i)=>{
    const t = txt(g,2807,yLeg(v),heatLegendLabels[i],15);
    
    
  });
  const t1 = txt(g,2781,1294,'group',15,{bold:true});
  
  
  const t2 = txt(g,2844,1313,'group',15,{bold:true});
  
  
  const s1 = mk('rect',{x:2844,y:1322,width:22,height:21,fill:groupCol.CO},g);
  
  
  const s2 = mk('rect',{x:2844,y:1343,width:22,height:22,fill:groupCol.HSO},g);
  
  
  const l1 = txt(g,2872,1333,'CO',15);
  
  
  const l2 = txt(g,2872,1355,'HSO',15);
  
  
})();

/* ---------- Panel E ---------- */
(function(){
  const g = document.getElementById('panelE');
  const yE = v => 3047 - v*68.6;
  const groups = [
    {terms:goBpTerms, values:goBpValues, x0:195, color:'#009e77', frame:[[156,3048],[552,3048],[400,3546],[44,3544]]},
    {terms:goCcTerms, values:goCcValues, x0:613, color:'#ee651c', frame:[[598,3048],[972,3048],[821,3546],[446,3546]]},
    {terms:goMfTerms, values:goMfValues, x0:1033, color:'#676caa', frame:[[1018,3048],[1391,3048],[1240,3546],[866,3546]]}];
  const step = 38.2, bw = 31.5;
  groups.forEach(gr=>{
    const xE = i => gr.x0 + step*i;
    gr.values.forEach((v,i)=>{
      const b = mk('rect',{x:xE(i)-bw/2,y:yE(v),width:bw,height:yE(0)-yE(v),fill:gr.color},g);
      
      
      const tk = mk('line',{x1:xE(i),x2:xE(i),y1:3047,y2:3056,stroke:'#000','stroke-width':2.5},g);
      
      
      const t = txt(g,xE(i)-7,3070,gr.terms[i],21,{anchor:'end',rotate:-72,fill:gr.color,italic:true});
      
      
    });
    const p = mk('polygon',{points:gr.frame.map(q=>q.join(',')).join(' '),fill:'none',stroke:gr.color,'stroke-width':1.6},g);
    
    
  });
  const ya = mk('line',{x1:156,x2:156,y1:2546,y2:3048,stroke:'#000','stroke-width':2.5},g);
  
  
  const xa = mk('line',{x1:155,x2:1420,y1:3047,y2:3047,stroke:'#000','stroke-width':2.5},g);
  
  
  goYTicks.forEach(v=>{
    const tk = mk('line',{x1:148,x2:156,y1:yE(v),y2:yE(v),stroke:'#000','stroke-width':2.5},g);
    
    
    const t = txt(g,137,yE(v),String(v),32,{anchor:'end'});
    
    
  });
  const legendColors = ['#009e77','#ee651c','#676caa'], legendY=[2578,2614,2650];
  goLegend.forEach((s,i)=>{
    const r = mk('rect',{x:1274,y:legendY[i]-9,width:54,height:18,fill:legendColors[i]},g);
    
    
    const t = txt(g,1350,legendY[i],s,26);
    
    
  });
})();

/* ---------- Panel F ---------- */
(function(){
  const g = document.getElementById('panelF');
  const xF = v => 2336 + (v-0.10)*1930;
  const yF = i => 2585 + i*47.63;
  const dF = n => 18 + (n-12)*0.826;
  const stops = [[0,'#ff1a10'],[0.007,'#ff6a00'],[0.014,'#eea000'],[0.021,'#d8c000'],[0.028,'#c0d818'],[0.042,'#60c010'],[0.056,'#10b010']];
  const fr = mk('rect',{x:2285,y:2543,width:418,height:989,fill:'none',stroke:'#222','stroke-width':3},g);
  
  
  keggPathways.forEach((s,i)=>{
    const tk = mk('line',{x1:2272,x2:2285,y1:yF(i),y2:yF(i),stroke:'#222','stroke-width':3},g);
    
    
    const t = txt(g,2261,yF(i)+2,s,29.4,{anchor:'end'});
    
    
    const d = dF(keggCount[i]);
    const e = mk('ellipse',{cx:xF(keggRatio[i]),cy:yF(i),rx:d/2,ry:d/2*0.9,fill:ramp(stops,keggPvalue[i])},g);
    
    
  });
  keggXTicks.forEach(v=>{
    const tk = mk('line',{x1:xF(v),x2:xF(v),y1:3532,y2:3543,stroke:'#222','stroke-width':3},g);
    
    
    const t = txt(g,xF(v),3558,v.toFixed(2),28,{anchor:'middle'});
    
    
  });
  const defs = mk('defs',{},g);
  const lg = mk('linearGradient',{id:'pGrad',x1:0,x2:0,y1:0,y2:1},defs);
  [['0','#10b010'],['0.25','#60c010'],['0.5','#c0d818'],['0.62','#d8c000'],['0.75','#eea000'],['0.88','#ff6a00'],['1','#ff1a10']].forEach(s=>mk('stop',{offset:s[0],'stop-color':s[1]},lg));
  const bar = mk('rect',{x:2771,y:2606,width:22,height:218,fill:'url(#pGrad)'},g);
  
  
  const yLeg = v => 2815 - v*3500;
  keggPTicks.forEach(v=>{
    const t = txt(g,2805,yLeg(v),String(v),28);
    
    
  });
  const sizeY = [3018,3060,3110];
  keggSizeLegend.forEach((n,i)=>{
    const d = dF(n);
    const e = mk('ellipse',{cx:2782,cy:sizeY[i],rx:d/2,ry:d/2*0.9,fill:'#000'},g);
    
    
    const t = txt(g,2812,sizeY[i]+2,String(n),28);
    
    
  });
})();
</script>
</body>
</html>
